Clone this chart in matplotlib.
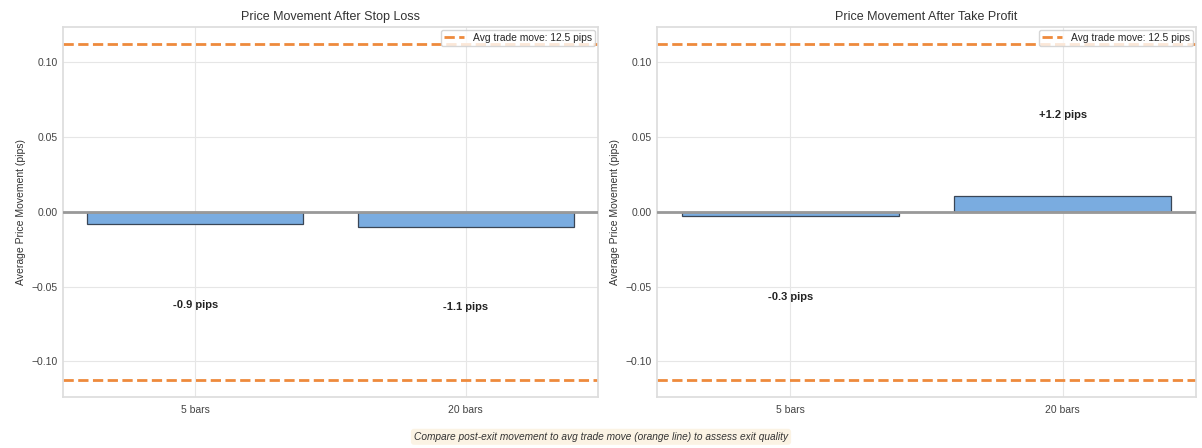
import matplotlib
matplotlib.use("Agg")
import matplotlib.pyplot as plt
import seaborn as sns
import numpy as np

sns.set_theme(style="whitegrid")
plt.rcParams['font.family'] = ['Liberation Sans', 'DejaVu Sans']

categories = ["5 bars", "20 bars"]
sl_pips = [-0.9, -1.1]
tp_pips = [-0.3, 1.2]
avg_trade_pips = 12.5
pip_scale = 0.009  # price units per pip used for plotting
titles = ["Price Movement After Stop Loss", "Price Movement After Take Profit"]
footer = "Compare post-exit movement to avg trade move (orange line) to assess exit quality"

fig = plt.figure(figsize=(12.02, 4.48), dpi=100)
ax1 = fig.add_axes([0.0524, 0.114, 0.4451, 0.826])
ax2 = fig.add_axes([0.5466, 0.114, 0.4484, 0.826])

avg_val = avg_trade_pips * pip_scale
for ax, pips, title in [(ax1, sl_pips, titles[0]), (ax2, tp_pips, titles[1])]:
    vals = np.array(pips) * pip_scale
    x = np.arange(len(categories))
    ax.bar(x, vals, width=0.8, color='#7aace0', edgecolor='#3a4656', linewidth=0.9, zorder=3)
    ax.axhline(0, color='#999999', linewidth=2, zorder=4)
    ax.axhline(avg_val, color='#ee8a3c', linestyle='--', linewidth=2,
               label=f"Avg trade move: {avg_trade_pips} pips", zorder=2)
    ax.axhline(-avg_val, color='#ee8a3c', linestyle='--', linewidth=2, zorder=2)
    for xi, v, p in zip(x, vals, pips):
        off = 0.054 if v >= 0 else -0.054
        ax.text(xi, v + off, f"{p:+.1f} pips", ha='center', va='center',
                fontsize=8, fontweight='bold', color='#222222')
    ax.set_xticks(x)
    ax.set_xticklabels(categories)
    ax.tick_params(axis='both', labelsize=7.5, length=0, pad=4, labelcolor='#444444')
    ax.tick_params(axis='x', pad=6)
    ax.set_ylim(-avg_val * 1.1, avg_val * 1.1)
    ax.set_yticks([-0.10, -0.05, 0.0, 0.05, 0.10])
    ax.set_ylabel("Average Price Movement (pips)", fontsize=7.5, labelpad=3.5, color='#333333')
    ax.set_title(title, fontsize=9, pad=5, color='#333333')
    ax.legend(loc='upper right', fontsize=7.4, frameon=True, borderpad=0.3,
              handlelength=2, borderaxespad=0.3)
    ax.grid(True, color='#e6e6e6', linewidth=0.8)
    for s in ax.spines.values():
        s.set_color('#dddddd')

fig.text(0.5, 0.025, footer, ha='center', va='center', fontsize=7.3, style='italic',
         color='#333333',
         bbox=dict(boxstyle='round,pad=0.3', facecolor='wheat', alpha=0.35, edgecolor='none'))

fig.savefig("out.png", dpi=100)
